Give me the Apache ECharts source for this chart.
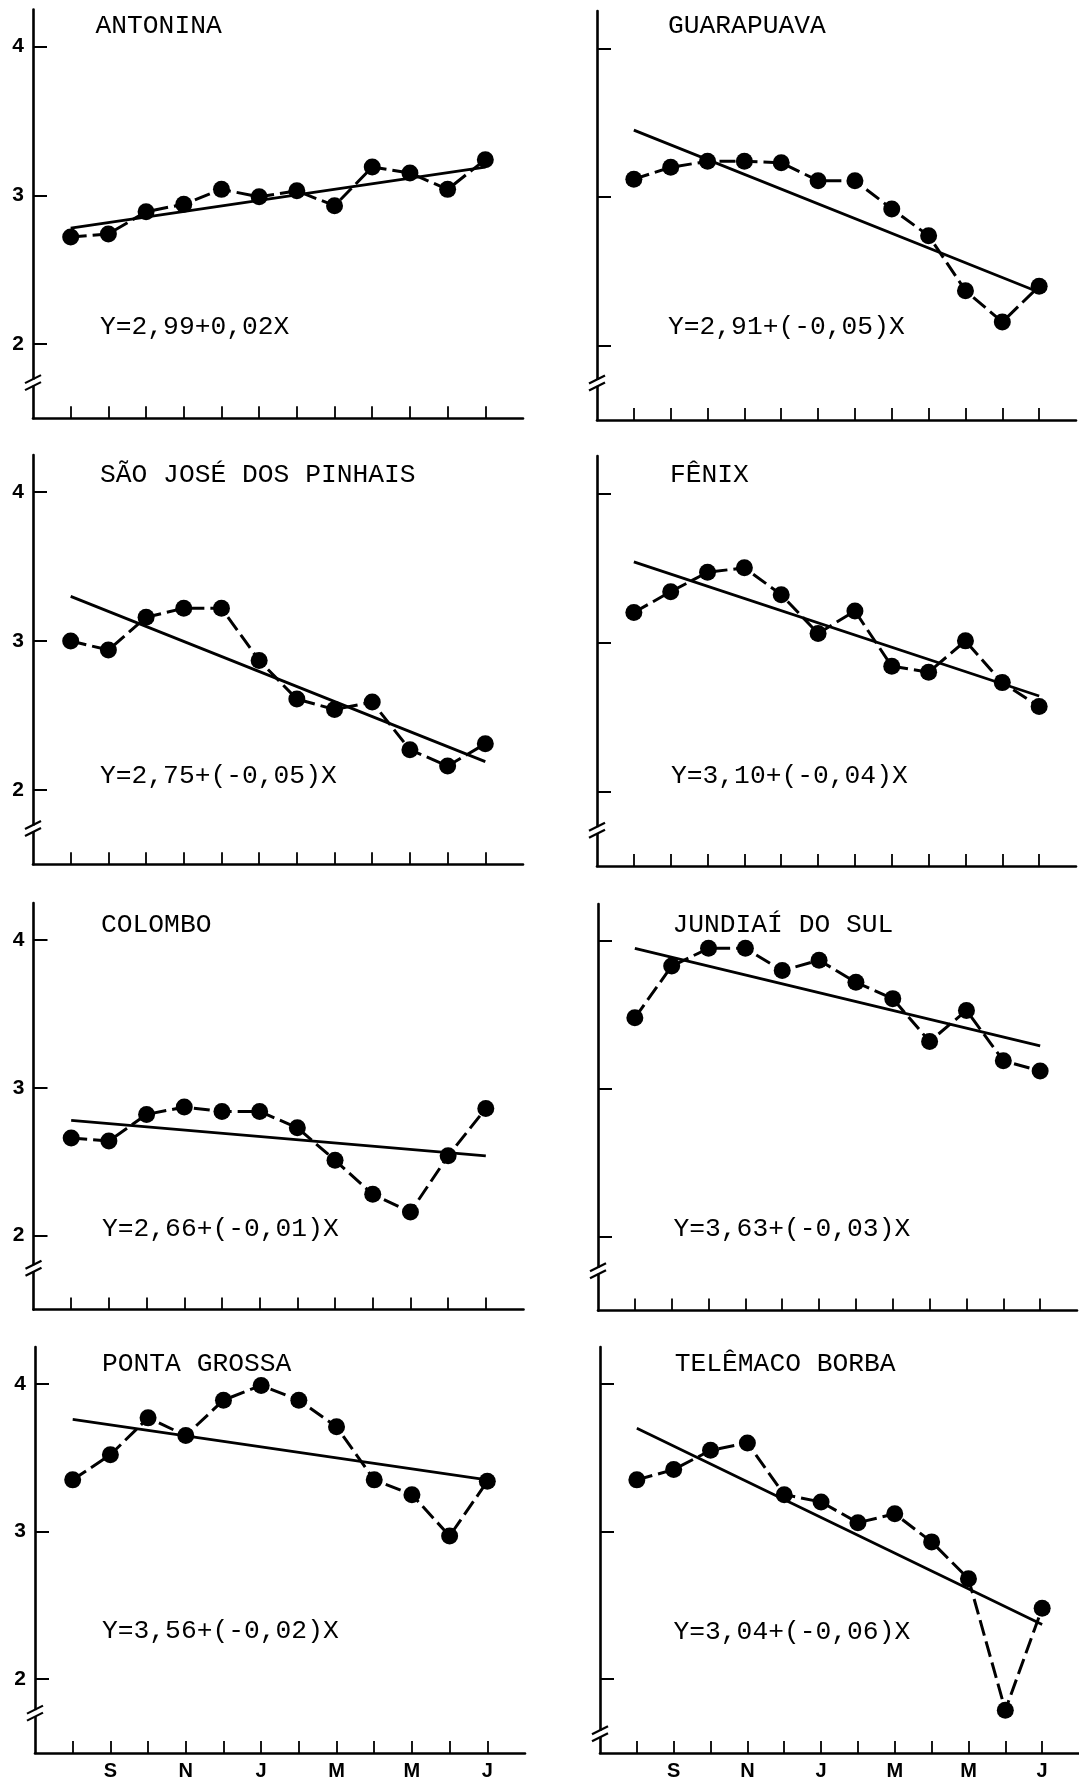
<!DOCTYPE html>
<html><head><meta charset="utf-8">
<script src="https://cdn.jsdelivr.net/npm/echarts@6/dist/echarts.min.js"></script>
<style>html,body{margin:0;padding:0;background:#fff}#c{width:1079px;height:1781px}</style>
</head><body><div id="c"></div>
<script>
// ---- data ----
const months = ['A','S','O','N','D','J','F','M','A','M','J','J'];
const monthPos = [1,2,3,4,5,6,7,8,9,10,11,12];
const yTicks = [2,3,4];
const stations = ['ANTONINA','GUARAPUAVA','SÃO JOSÉ DOS PINHAIS','FÊNIX','COLOMBO','JUNDIAÍ DO SUL','PONTA GROSSA','TELÊMACO BORBA'];
const equations = ['Y=2,99+0,02X','Y=2,91+(-0,05)X','Y=2,75+(-0,05)X','Y=3,10+(-0,04)X','Y=2,66+(-0,01)X','Y=3,63+(-0,03)X','Y=3,56+(-0,02)X','Y=3,04+(-0,06)X'];

const antonina    = [2.72,2.74,2.89,2.94,3.04,2.99,3.03,2.93,3.19,3.15,3.04,3.24];
const guarapuava  = [3.12,3.20,3.24,3.24,3.23,3.11,3.11,2.92,2.74,2.37,2.16,2.40];
const saoJose     = [3.00,2.94,3.16,3.22,3.22,2.87,2.61,2.54,2.59,2.27,2.16,2.31];
const fenix       = [3.20,3.34,3.47,3.50,3.32,3.06,3.21,2.84,2.80,3.01,2.73,2.57];
const colombo     = [2.66,2.64,2.82,2.87,2.84,2.84,2.73,2.51,2.28,2.16,2.54,2.86];
const jundiai     = [3.48,3.83,3.95,3.95,3.80,3.87,3.72,3.61,3.32,3.53,3.19,3.12];
const pontaGrossa = [3.35,3.52,3.77,3.65,3.89,3.99,3.89,3.71,3.35,3.25,2.97,3.34];
const telemaco    = [3.35,3.42,3.55,3.60,3.25,3.20,3.06,3.12,2.93,2.68,1.79,2.48];

// regression line end values (at first and last month)
const trendStart = [2.78,3.45,3.30,3.54,2.78,3.95,3.76,3.70];
const trendEnd   = [3.19,2.36,2.19,2.64,2.54,3.29,3.35,2.37];

const seriesValues = [antonina,guarapuava,saoJose,fenix,colombo,jundiai,pontaGrossa,telemaco];

// ---- layout (positions only) ----
const layout = [
  {left:33,   top:9.5,  width:490, height:408.8, tx:95.5,  ty:26.3,   ex:100,   ey:327.5,  brk:1.74},
  {left:597,  top:11.1, width:479, height:409,   tx:668,   ty:25.8,   ex:668,   ey:327.5,  brk:1.75},
  {left:33,   top:455,  width:490, height:409.3, tx:100,   ty:475.5,  ex:100,   ey:775.8,  brk:1.74},
  {left:597,  top:456,  width:479, height:410,   tx:670,   ty:475,    ex:671,   ey:775.8,  brk:1.74},
  {left:33.5, top:903,  width:490, height:406.6, tx:101,   ty:925.3,  ex:102,   ey:1229.5, brk:1.78},
  {left:598,  top:904,  width:479, height:406.6, tx:672.4, ty:925.5,  ex:673.5, ey:1229.5, brk:1.77},
  {left:35,   top:1347, width:490, height:407,   tx:102,   ty:1364,   ex:102,   ey:1631,   brk:1.77},
  {left:600,  top:1347, width:479, height:408,   tx:674.7, ty:1364,   ex:673.5, ey:1632,   brk:1.63}
];

const INK = '#000';
const grids = [], xAxes = [], yAxes = [], series = [], graphics = [];
layout.forEach((L, i) => {
  const isLeft = i % 2 === 0;
  const isBottom = i >= 6;
  grids.push({left:L.left, top:L.top, width:L.width, height:L.height, containLabel:false});
  xAxes.push({
    gridIndex:i, type:'value', min:0, max:13,
    axisLine:{show:true, onZero:false, lineStyle:{color:INK, width:2.6}},
    axisTick:{show:true, inside:true, length:12, customValues:monthPos, lineStyle:{color:INK, width:1.8}},
    axisLabel:{show:isBottom, customValues:monthPos.filter(m => m % 2 === 0), margin:8,
      formatter:v => months[v-1], color:INK, fontFamily:'Liberation Sans', fontWeight:'bold', fontSize:20},
    splitLine:{show:false}
  });
  yAxes.push({
    gridIndex:i, type:'value', min:1.5, max:4.25,
    axisLine:{show:true, lineStyle:{color:INK, width:2.6}},
    axisTick:{show:true, inside:true, length:14, customValues:yTicks, lineStyle:{color:INK, width:2}},
    axisLabel:{show:isLeft, customValues:yTicks, margin:9, color:INK,
      fontFamily:'Liberation Sans', fontWeight:'bold', fontSize:21},
    splitLine:{show:false}
  });
  series.push({
    type:'line', xAxisIndex:i, yAxisIndex:i, silent:true,
    data:[[monthPos[0], trendStart[i]], [monthPos[monthPos.length-1], trendEnd[i]]],
    symbol:'none', lineStyle:{color:INK, width:2.8, type:'solid'}, z:2
  });
  series.push({
    type:'line', xAxisIndex:i, yAxisIndex:i, silent:true,
    data:monthPos.map((m, k) => [m, seriesValues[i][k]]),
    symbol:'circle', symbolSize:17, showSymbol:true,
    itemStyle:{color:INK, borderWidth:0},
    lineStyle:{color:INK, width:3, type:[16,6]}, z:3
  });
  const font = '26.3px "Liberation Mono", "DejaVu Sans Mono", monospace';
  graphics.push({type:'text', x:L.tx, y:L.ty, style:{text:stations[i], font:font, fill:INK, verticalAlign:'middle', align:'left'}});
  graphics.push({type:'text', x:L.ex, y:L.ey, style:{text:equations[i], font:font, fill:INK, verticalAlign:'middle', align:'left'}});
});

const chart = echarts.init(document.getElementById('c'), null, {renderer:'canvas'});
chart.setOption({
  animation:false, backgroundColor:'#fff',
  grid:grids, xAxis:xAxes, yAxis:yAxes, series:series, graphic:graphics
});

// axis break marks on each y axis
const breaks = [];
layout.forEach((L, i) => {
  const p = chart.convertToPixel({gridIndex:i}, [0, L.brk]);
  const ax = p[0], cy = p[1];
  breaks.push({type:'rect', shape:{x:ax-3, y:cy-3, width:6, height:6}, style:{fill:'#fff'}, z:100});
  [-3.5, 3.5].forEach(d => {
    breaks.push({type:'line', shape:{x1:ax-8, y1:cy+d+4, x2:ax+8, y2:cy+d-4}, style:{stroke:INK, lineWidth:2.2}, z:101});
  });
});
chart.setOption({graphic:graphics.concat(breaks)});
</script>
</body></html>
